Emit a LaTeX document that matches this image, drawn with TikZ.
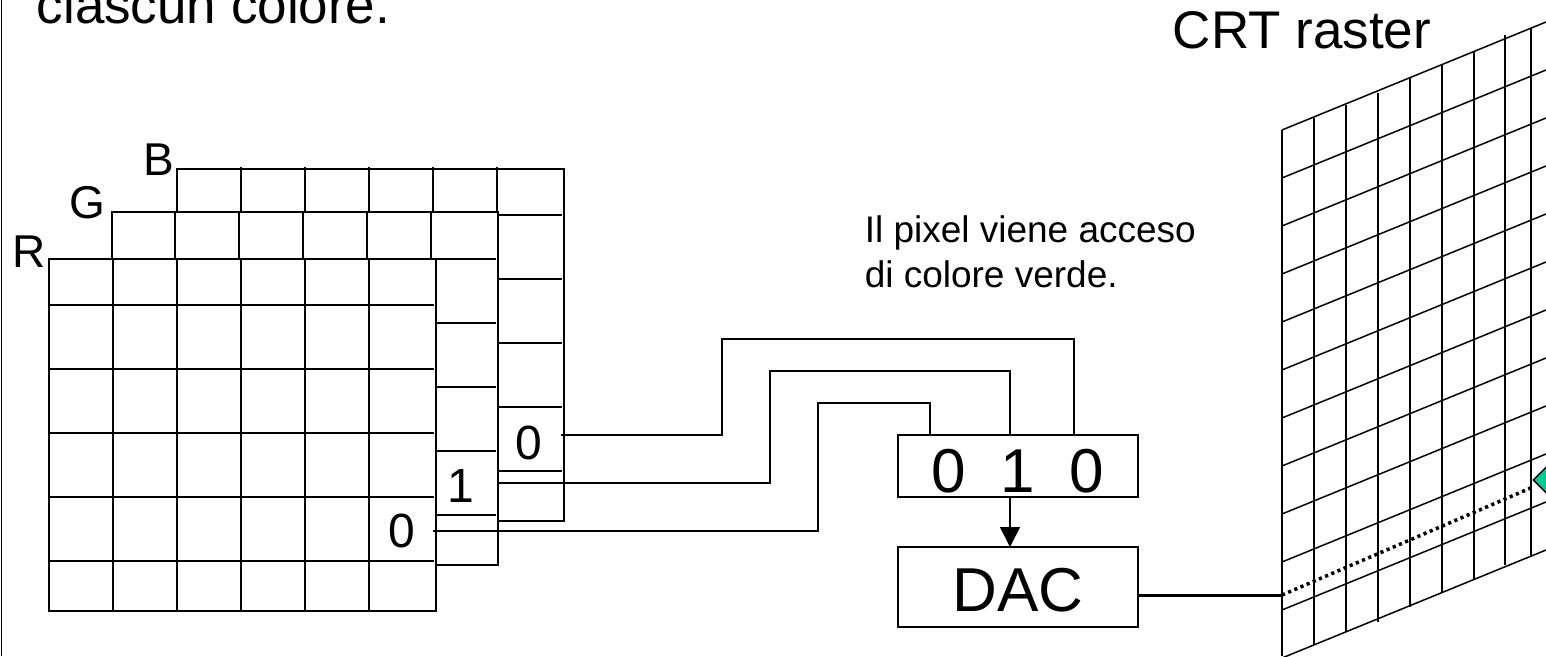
\documentclass[tikz,border=0pt]{standalone}
\usepackage{fontspec}
\setmainfont{Liberation Sans}
\usetikzlibrary{positioning,arrows.meta,shapes.geometric}
\definecolor{pixelgreen}{RGB}{0,200,150}
\newcommand{\fsz}[1]{\fontsize{#1}{#1}\selectfont}
\begin{document}
\begin{tikzpicture}[
    x=1pt, y=-1pt,
    line width=1.5pt,
    label/.style={inner sep=0pt, anchor=base west, font=\fsz{46}},
    bit/.style={inner sep=0pt, anchor=base, font=\fsz{48}},
    box/.style={rectangle, draw, inner sep=0pt, fill=white, align=center, minimum width=240pt},
    wire/.style={draw, line width=1.5pt},
]
\useasboundingbox (0,0) rectangle (1546,656);
\clip (0,0) rectangle (1546,656);
% left edge
\draw (1.5,0) -- (1.5,656);
\node[label, font=\fsz{53}] (title) at (36,23) {ciascun colore.};
\node[label, font=\fsz{53}] (crt) at (1172,48) {CRT raster};
\node[inner sep=0pt, anchor=base west, font=\fontsize{37}{45}\selectfont, align=left] (note) at (864,287) {Il pixel viene acceso\\di colore verde.};
% blue plane
\draw (177,212) -- (177,169) -- (564,169) -- (564,521) -- (498,521);
\foreach \x in {241,305,369,433,497} \draw (\x,167) -- (\x,212);
\foreach \y in {215,279,343,407,471} \draw (498,\y) -- (562,\y);
% green plane
\draw (112,259) -- (112,212) -- (498,212) -- (498,565) -- (436,565);
\foreach \x in {175,239,303,367,431} \draw (\x,212) -- (\x,259);
\foreach \y in {259,323,387,451,515} \draw (436,\y) -- (496,\y);
% red plane
\draw (49,259) rectangle (436,611);
\foreach \x in {113,177,241,305,369} \draw (\x,259) -- (\x,611);
\foreach \y in {305,369,433,497,561} \draw (49,\y) -- (434,\y);
\node[label] (labelR) at (11.5,267) {R};
\node[label] (labelG) at (69,218) {G};
\node[label] (labelB) at (143,175) {B};
\node[bit] (bitR) at (402,547.5) {0};
\node[bit] (bitG) at (461,502) {1};
\node[bit] (bitB) at (529,459.5) {0};
\coordinate (outR) at (433,531);
\coordinate (outG) at (498,483);
\coordinate (outB) at (561,435);
% register and converter
\node[box, text height=57pt, text depth=5pt, font=\fsz{62}] (reg) at (1018,466) {0\ \ 1\ \ 0};
\node[box, text height=64pt, text depth=16pt, font=\fsz{62}] (dac) at (1018,587) {DAC};
\coordinate (inR) at (930,435);
\coordinate (inG) at (1010,435);
\coordinate (inB) at (1074,435);
\draw[wire] (outB) -- (722,435) -- (722,339) -- (1074,339) -- (inB);
\draw[wire] (outG) -- (770,483) -- (770,371) -- (1010,371) -- (inG);
\draw[wire] (outR) -- (818,531) -- (818,403) -- (930,403) -- (inR);
\draw[-{Triangle[length=20pt,width=20pt]}] (1010,497) -- (1010,547);
% raster
\foreach \k in {0,...,11} \draw (1282,130+48*\k) -- (1546,130+48*\k-108);
\foreach \x/\t/\b in {1282/130/656,1314/118/645,1346/105/632,1378/93/622,1410/78/607,1442/65/593,1474/52/580,1505/35/565,1531/28/557}
    \draw (\x,\t) -- (\x,\b);
\coordinate (rasterIn) at (1282,595);
\draw[line width=3pt] (dac.east |- rasterIn) -- (rasterIn);
\node[diamond, draw, fill=pixelgreen, minimum width=32pt, minimum height=32pt, inner sep=0pt] (pixel) at (1549,480) {};
\draw[line width=3.5pt, dash pattern=on 3.2pt off 3.5pt] (rasterIn) -- (1533,487);
\end{tikzpicture}
\end{document}
